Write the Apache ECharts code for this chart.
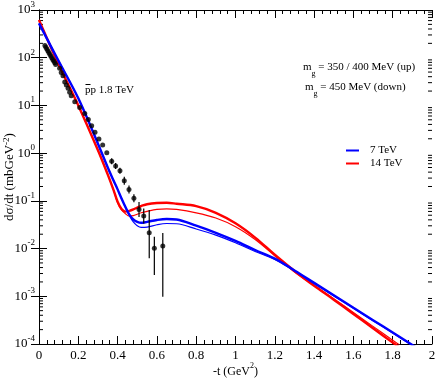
<!DOCTYPE html>
<html>
<head>
<meta charset="utf-8">
<script src="https://cdn.jsdelivr.net/npm/echarts@6/dist/echarts.min.js"></script>
<style>
html,body{margin:0;padding:0;background:#fff;}
#main{width:436px;height:382px;}
</style>
</head>
<body>
<div id="main"></div>
<script>
// -t grid (GeV^2) shared by the model curves
var tGrid = [0, 0.1, 0.2, 0.3, 0.35, 0.38, 0.40, 0.42, 0.44, 0.46, 0.48, 0.50, 0.52, 0.55, 0.60, 0.65, 0.70, 0.80, 0.90, 1.0, 1.1, 1.2, 1.3, 1.4, 1.5, 1.6, 1.7, 1.8, 1.9, 2.0];

// 14 TeV, m_g = 350/400 MeV (up) and 450 MeV (down)
var sig14Up = [620, 72, 10.0, 1.15, 0.355, 0.166, 0.0955, 0.0676, 0.0596, 0.0617, 0.0661, 0.0724, 0.0776, 0.0851, 0.0902, 0.0912, 0.0871, 0.0776, 0.0562, 0.0339, 0.0170, 0.00741, 0.00339, 0.00166, 8.5e-4, 4.27e-4, 2.14e-4, 1.07e-4, 5.4e-5, 2.7e-5];
var sig14Down = [620, 72, 10.0, 1.15, 0.355, 0.166, 0.0912, 0.0646, 0.0537, 0.0479, 0.0490, 0.0525, 0.0562, 0.0603, 0.0661, 0.0676, 0.0661, 0.0562, 0.0437, 0.0288, 0.0155, 0.00708, 0.00324, 0.0017, 8.9e-4, 4.57e-4, 2.34e-4, 1.2e-4, 6.2e-5, 3.2e-5];

// 7 TeV
var sig7Up = [525, 85, 14.1, 1.58, 0.50, 0.263, 0.174, 0.112, 0.0741, 0.0513, 0.0407, 0.0363, 0.0347, 0.0363, 0.0398, 0.0417, 0.0407, 0.0302, 0.0214, 0.0145, 0.00933, 0.00617, 0.00347, 0.00191, 0.00105, 5.75e-4, 3.16e-4, 1.74e-4, 9.5e-5, 5.2e-5];
var sig7Down = [525, 85, 14.1, 1.58, 0.50, 0.263, 0.174, 0.112, 0.0724, 0.049, 0.0363, 0.0302, 0.0279, 0.0282, 0.0316, 0.0335, 0.0331, 0.0257, 0.0191, 0.0132, 0.0087, 0.00589, 0.00339, 0.00186, 0.00102, 5.6e-4, 3.09e-4, 1.7e-4, 9.3e-5, 5.1e-5];

// pbar-p 1.8 TeV data
var cdfT = [0.030, 0.035, 0.040, 0.045, 0.050, 0.055, 0.060, 0.065, 0.070, 0.075, 0.080, 0.085,
  0.105, 0.113, 0.122, 0.131, 0.139, 0.148, 0.156, 0.164, 0.182, 0.207, 0.233, 0.251, 0.268, 0.285, 0.305, 0.324, 0.345,
  0.370, 0.390, 0.412, 0.434, 0.458, 0.483, 0.509, 0.533, 0.561, 0.587, 0.630];
var cdfSig = [180, 165, 152, 140, 128, 118, 108, 100, 92, 85, 78, 72,
  60, 49, 42, 31, 26.8, 22.8, 18.8, 16, 12, 9.0, 6.8, 5.1, 3.75, 2.73, 1.98, 1.48, 1.02,
  0.68, 0.537, 0.43, 0.264, 0.174, 0.113, 0.066, 0.048, 0.0214, 0.0101, 0.0113];
var cdfLo = [null, null, null, null, null, null, null, null, null, null, null, null,
  null, null, null, null, null, null, null, null, null, null, null, null, null, null, null, null, null,
  0.588, 0.465, 0.372, 0.218, 0.143, 0.093, 0.046, 0.0334, 0.0063, 0.0028, 0.00098];
var cdfHi = [null, null, null, null, null, null, null, null, null, null, null, null,
  null, null, null, null, null, null, null, null, null, null, null, null, null, null, null, null, null,
  0.786, 0.62, 0.497, 0.32, 0.211, 0.137, 0.095, 0.069, 0.064, 0.0177, 0.0211];

var decades = [1e-4, 1e-3, 1e-2, 1e-1, 1, 10, 100];
var minorSteps = [2, 3, 4, 5, 6, 7, 8, 9];

var FONT = 'Liberation Serif';

function pairs(xs, ys) {
  return xs.map(function (x, i) { return [x, ys[i]]; });
}

var minorTicks = [];
decades.forEach(function (d) {
  minorSteps.forEach(function (m) { minorTicks.push([0, d * m]); });
});

var errBars = [];
cdfT.forEach(function (t, i) {
  if (cdfLo[i] !== null) errBars.push([t, cdfLo[i], cdfHi[i]]);
});

var chart = echarts.init(document.getElementById('main'), null, {renderer: 'canvas'});

function curve(name, ys, color, width) {
  return {
    name: name, type: 'line', data: pairs(tGrid, ys), showSymbol: false, smooth: 0.35,
    lineStyle: {color: color, width: width}, itemStyle: {color: color}
  };
}

chart.setOption({
  animation: false,
  backgroundColor: '#fff',
  grid: {left: 39, right: 4, top: 10, bottom: 38, outerBoundsMode: 'none', containLabel: false},
  xAxis: [{
    type: 'value', min: 0, max: 2, interval: 0.2, position: 'bottom',
    axisLine: {lineStyle: {color: '#000', width: 1}},
    splitLine: {show: false},
    axisTick: {inside: true, length: 8, lineStyle: {color: '#000'}},
    minorTick: {show: true, splitNumber: 5, length: 4, lineStyle: {color: '#000'}},
    axisLabel: {
      margin: 5, color: '#000', fontFamily: FONT, fontSize: 13,
      formatter: function (v) { return String(Math.round(v * 10) / 10); }
    },
    name: '{a|-t (GeV}{s|2}{a|)}',
    nameLocation: 'middle', nameGap: 18, nameMoveOverlap: false,
    nameTextStyle: {
      rich: {
        a: {fontFamily: FONT, fontSize: 12, color: '#000', lineHeight: 20},
        s: {fontFamily: FONT, fontSize: 8, color: '#000', verticalAlign: 'top', lineHeight: 8}
      }
    }
  }, {
    type: 'value', min: 0, max: 2, interval: 0.2, position: 'top',
    axisLine: {lineStyle: {color: '#000', width: 1}},
    splitLine: {show: false},
    axisTick: {inside: true, length: 8, lineStyle: {color: '#000'}},
    minorTick: {show: true, splitNumber: 5, length: 4, lineStyle: {color: '#000'}},
    axisLabel: {show: false}
  }],
  yAxis: [{
    type: 'log', logBase: 10, min: 1e-4, max: 1e3, position: 'left',
    axisLine: {lineStyle: {color: '#000', width: 1}},
    splitLine: {show: false},
    axisTick: {inside: true, length: 8, lineStyle: {color: '#000'}},
    axisLabel: {
      margin: 4,
      formatter: function (v) {
        return '{b|10}{e|' + Math.round(Math.log10(v)) + '}';
      },
      rich: {
        b: {fontFamily: FONT, fontSize: 13, color: '#000', lineHeight: 20},
        e: {fontFamily: FONT, fontSize: 9, color: '#000', verticalAlign: 'top', lineHeight: 9}
      }
    },
    name: '{a|d\u03c3/dt (mbGeV}{s|-2}{a|)}',
    nameLocation: 'middle', nameGap: 22, nameMoveOverlap: false,
    nameTextStyle: {
      rich: {
        a: {fontFamily: FONT, fontSize: 13, color: '#000', lineHeight: 15},
        s: {fontFamily: FONT, fontSize: 9, color: '#000', verticalAlign: 'top', lineHeight: 9}
      }
    }
  }, {
    type: 'log', logBase: 10, min: 1e-4, max: 1e3, position: 'right',
    axisLine: {lineStyle: {color: '#000', width: 1}},
    splitLine: {show: false},
    axisTick: {inside: true, length: 8, lineStyle: {color: '#000'}},
    axisLabel: {show: false}
  }],
  graphic: [
    {type: 'text', x: 85, y: 90, style: {text: 'pp 1.8 TeV', font: '11px "Liberation Serif"', fill: '#000', verticalAlign: 'middle'}},
    {type: 'line', shape: {x1: 85.5, y1: 84.5, x2: 90.5, y2: 84.5}, style: {stroke: '#000', lineWidth: 1}},
    {type: 'text', x: 303, y: 67, style: {
      text: '{a|m}{s|g}{a| = 350 / 400 MeV (up)}', verticalAlign: 'middle',
      rich: {
        a: {fontFamily: FONT, fontSize: 11, fill: '#000', lineHeight: 22},
        s: {fontFamily: FONT, fontSize: 8, fill: '#000', verticalAlign: 'bottom', lineHeight: 8}
      }
    }},
    {type: 'text', x: 305, y: 87, style: {
      text: '{a|m}{s|g}{a| = 450 MeV (down)}', verticalAlign: 'middle',
      rich: {
        a: {fontFamily: FONT, fontSize: 11, fill: '#000', lineHeight: 22},
        s: {fontFamily: FONT, fontSize: 8, fill: '#000', verticalAlign: 'bottom', lineHeight: 8}
      }
    }},
    {type: 'line', shape: {x1: 346, y1: 150.5, x2: 359, y2: 150.5}, style: {stroke: '#0000ff', lineWidth: 2}},
    {type: 'text', x: 370, y: 150, style: {text: '7 TeV', font: '11px "Liberation Serif"', fill: '#000', verticalAlign: 'middle'}},
    {type: 'line', shape: {x1: 346, y1: 163.5, x2: 359, y2: 163.5}, style: {stroke: '#ff0000', lineWidth: 2}},
    {type: 'text', x: 370, y: 163, style: {text: '14 TeV', font: '11px "Liberation Serif"', fill: '#000', verticalAlign: 'middle'}}
  ],
  series: [
    {
      name: 'minor', type: 'custom', xAxisIndex: 0, yAxisIndex: 0, silent: true,
      data: minorTicks,
      renderItem: function (params, api) {
        var v = api.value(1);
        var a = api.coord([0, v]);
        var b = api.coord([2, v]);
        return {type: 'group', children: [
          {type: 'line', shape: {x1: a[0], y1: a[1], x2: a[0] + 4, y2: a[1]}, style: {stroke: '#000', lineWidth: 1}},
          {type: 'line', shape: {x1: b[0], y1: b[1], x2: b[0] - 4, y2: b[1]}, style: {stroke: '#000', lineWidth: 1}}
        ]};
      }
    },
    curve('14 TeV up', sig14Up, '#ff0000', 2.4),
    curve('14 TeV down', sig14Down, '#ff0000', 1.2),
    curve('7 TeV up', sig7Up, '#0000ff', 2.4),
    curve('7 TeV down', sig7Down, '#0000ff', 1.2),
    {
      name: 'errors', type: 'custom', silent: true, z: 5,
      data: errBars,
      encode: {x: 0, y: [1, 2]},
      renderItem: function (params, api) {
        var lo = api.coord([api.value(0), api.value(1)]);
        var hi = api.coord([api.value(0), api.value(2)]);
        return {type: 'line', shape: {x1: lo[0], y1: lo[1], x2: hi[0], y2: hi[1]}, style: {stroke: '#000', lineWidth: 1.2}};
      }
    },
    {name: 'pbar-p 1.8 TeV', type: 'scatter', data: pairs(cdfT, cdfSig), symbol: 'circle', symbolSize: 5, z: 6,
      itemStyle: {color: '#000'}}
  ]
});
</script>
</body>
</html>
